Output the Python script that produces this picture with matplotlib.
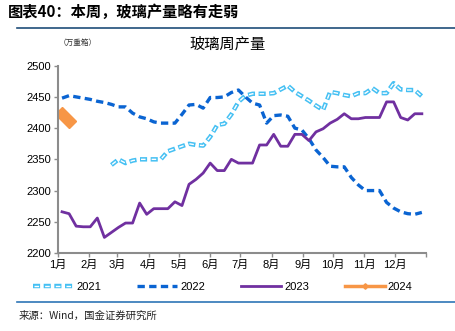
import numpy as np
import pandas as pd
import matplotlib
matplotlib.use('Agg')
import matplotlib.pyplot as plt

plt.rcParams['font.family'] = ['Liberation Sans', 'Noto Sans CJK SC', 'DejaVu Sans']

# weekly dates, mapped onto one common year for the x axis
weeks = pd.date_range('2023-01-05', periods=52, freq='7D')

y2021 = [np.nan] * 7 + [
    2341, 2350, 2344, 2348, 2350, 2350, 2350, 2350, 2363, 2367,
    2371, 2375, 2373, 2372, 2386, 2405, 2407, 2422, 2442, 2452,
    2455, 2455, 2455, 2456, 2462, 2468, 2458, 2451, 2444, 2436,
    2429, 2458, 2456, 2453, 2451, 2456, 2456, 2464, 2456, 2456,
    2472, 2462, 2461, 2461, 2451]

y2022 = [
    2448, 2452, 2450, 2448, 2446, 2443, 2441, 2438, 2434, 2434,
    2424, 2418, 2415, 2410, 2408, 2408, 2408, 2422, 2437, 2438,
    2432, 2449, 2449, 2450, 2457, 2461, 2450, 2440, 2437, 2408,
    2420, 2421, 2419, 2400, 2397, 2383, 2365, 2353, 2339, 2338,
    2338, 2321, 2309, 2300, 2300, 2300, 2281, 2272, 2266, 2263,
    2262, 2265]

y2023 = [
    2266, 2263, 2243, 2242, 2242, 2256, 2225, 2233, 2241, 2248,
    2248, 2280, 2262, 2271, 2271, 2271, 2282, 2276, 2310, 2318,
    2328, 2344, 2332, 2332, 2350, 2344, 2344, 2344, 2373, 2373,
    2390, 2371, 2371, 2390, 2390, 2380, 2394, 2399, 2408, 2414,
    2423, 2415, 2415, 2417, 2417, 2417, 2442, 2442, 2417, 2413,
    2423, 2423]

y2024 = [2423, 2412]

month_labels = ['1月', '2月', '3月', '4月', '5月', '6月',
                '7月', '8月', '9月', '10月', '11月', '12月']

fig = plt.figure(figsize=(4.55, 3.31), dpi=100)
ax = fig.add_axes([0.1275, 0.2356, 0.8085, 0.566])

# 2021: light blue dashes with a white core
c21 = '#45C0F3'
l21, = ax.plot(weeks, y2021, color=c21, lw=3.2, ls=(0, (1.6, 0.8)),
               dash_capstyle='butt')
l21w, = ax.plot(weeks, y2021, color='white', lw=1.0,
                ls=(6.98, (3.32, 4.36)), dash_capstyle='butt')
l22, = ax.plot(weeks, y2022, color='#0A64D2', lw=2.4, ls=(0, (2.2, 1.3)))
l23, = ax.plot(weeks, y2023, color='#7030A0', lw=2.0)
l24, = ax.plot(weeks[:len(y2024)], y2024, color='#F79646', lw=2.5,
               marker='D', ms=7)

ax.set_ylim(2200, 2500)
ax.set_yticks(range(2200, 2501, 50))
ax.set_xlim(pd.Timestamp('2023-01-01'), pd.Timestamp('2024-01-01'))
ticks = list(pd.date_range('2023-01-01', periods=13, freq='MS'))
ax.set_xticks(ticks)
ax.set_xticklabels(month_labels + [''])

for s in ['top', 'right']:
    ax.spines[s].set_visible(False)
for s in ['left', 'bottom']:
    ax.spines[s].set_color('#8c8c8c')
    ax.spines[s].set_linewidth(1.5)
ax.tick_params(axis='both', colors='#8c8c8c', labelcolor='black',
               labelsize=8, length=3, width=1)
ax.tick_params(axis='y', pad=2)
ax.tick_params(axis='x', pad=2)

fig.legend([(l21, l21w), l22, l23, l24], ['2021', '2022', '2023', '2024'],
           loc='center', bbox_to_anchor=(0.49, 0.134), ncol=4,
           frameon=False, fontsize=8, handlelength=3.6, columnspacing=3.2,
           handletextpad=0.3, markerscale=0.4)

fig.text(0.5, 0.867, '玻璃周产量', ha='center', va='center', fontsize=11,
         family=['Noto Sans CJK SC'])
fig.text(0.17, 0.87, '（万重箱）', ha='center', va='center', fontsize=5.5,
         family=['Noto Sans CJK SC'], color='#333333')

fig.text(0.018, 0.963, '图表40：本周，玻璃产量略有走弱', ha='left', va='center',
         fontsize=11, fontweight='bold', style='italic',
         family=['Noto Sans CJK SC'])
fig.add_artist(plt.Line2D([0.037, 1.0], [0.915, 0.915], color='#1F4E79', lw=1.2))
fig.add_artist(plt.Line2D([0.037, 1.0], [0.088, 0.088], color='#2E75B6', lw=1.2))
fig.text(0.04, 0.045, '来源：Wind，国金证券研究所', ha='left', va='center',
         fontsize=7.5, family=['Noto Sans CJK SC'], color='#222222')

fig.savefig('out.png', dpi=100)
